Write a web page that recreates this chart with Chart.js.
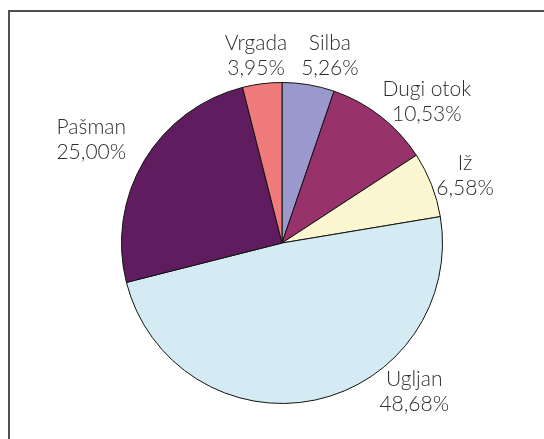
<!DOCTYPE html>
<html>
<head>
<meta charset="utf-8">
<script src="https://cdn.jsdelivr.net/npm/chart.js@4"></script>
<style>
  html, body { margin: 0; padding: 0; background: #fff; }
  #wrap { width: 544px; height: 439px; position: relative; }
</style>
</head>
<body>
<div id="wrap"><canvas id="myChart" width="544" height="439"></canvas></div>
<script>
const islands = ["Silba", "Dugi otok", "Iž", "Ugljan", "Pašman", "Vrgada"];
const shares = [5.26, 10.53, 6.58, 48.68, 25.00, 3.95];
const shareLabels = ["5,26%", "10,53%", "6,58%", "48,68%", "25,00%", "3,95%"];

const sliceColors = ['#9a98cc', '#97336a', '#fcf7d1', '#d4ebf3', '#5f1d60', '#f07b7c'];
// where each label sits relative to its slice (degrees off the mid angle, px from centre)
const labelShift = [4.9, 7.9, 1.1, -29.8, -2.3, -0.8];
const labelDist = [193, 202, 195, 199, 217, 189];

const frame = {
    id: 'frame',
    beforeDraw(chart) {
        const c = chart.ctx;
        c.save();
        c.strokeStyle = '#505050';
        c.lineWidth = 2;
        c.beginPath();
        c.moveTo(9, 439);
        c.lineTo(9, 11);
        c.lineTo(544, 11);
        c.stroke();
        c.restore();
    }
};

const sliceLabels = {
    id: 'sliceLabels',
    afterDatasetsDraw(chart) {
        const c = chart.ctx;
        const arcs = chart.getDatasetMeta(0).data;
        c.save();
        c.font = '300 21px Lato';
        c.fillStyle = '#2e2e2e';
        c.textAlign = 'center';
        c.textBaseline = 'middle';
        arcs.forEach((arc, i) => {
            const mid = (arc.startAngle + arc.endAngle) / 2 + labelShift[i] * Math.PI / 180;
            const x = arc.x + Math.cos(mid) * labelDist[i];
            const y = arc.y + Math.sin(mid) * labelDist[i];
            c.fillText(islands[i], x, y - 12.5);
            c.fillText(shareLabels[i], x, y + 12.5);
        });
        c.restore();
    }
};

const ctx = document.getElementById('myChart');
new Chart(ctx, {
    type: 'pie',
    data: {
        labels: islands,
        datasets: [{
            data: shares,
            backgroundColor: sliceColors,
            borderColor: '#111',
            borderWidth: 1,
            hoverOffset: 0
        }]
    },
    options: {
        responsive: false,
        animation: false,
        layout: { padding: { left: 120, right: 100, top: 82, bottom: 35 } },
        plugins: {
            legend: { display: false },
            tooltip: { enabled: false }
        }
    },
    plugins: [frame, sliceLabels]
});
</script>
</body>
</html>
